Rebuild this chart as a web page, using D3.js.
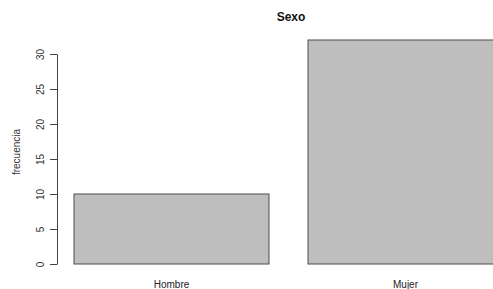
<!DOCTYPE html>
<html>
<head>
<meta charset="utf-8">
<script src="https://cdn.jsdelivr.net/npm/d3@7"></script>
<style>
  body { margin: 0; background: #fff; }
  svg { display: block; font-family: "Liberation Sans", Arial, sans-serif; }
</style>
</head>
<body>
<div id="chart"></div>
<script>
// data
const categories = ["Hombre", "Mujer"];
const counts = [10, 32];
const yTicks = [0, 5, 10, 15, 20, 25, 30];

const width = 493, height = 289;

const svg = d3.select("#chart").append("svg")
    .attr("width", width)
    .attr("height", height);

// barplot units: width 1, space 0.2
const x = d3.scaleLinear().domain([0.2, 1.2]).range([74, 269]);
const y = d3.scaleLinear().domain([0, 30]).range([264, 54]);

// bars
svg.selectAll("rect.bar")
    .data(counts)
    .enter()
    .append("rect")
    .attr("class", "bar")
    .attr("x", (d, i) => x(0.2 + i * 1.2))
    .attr("width", x(1.2) - x(0.2))
    .attr("y", d => y(d))
    .attr("height", d => y(0) - y(d))
    .attr("fill", "#bebebe")
    .attr("stroke", "#4d4d4d")
    .attr("stroke-width", 1);

// category labels
svg.selectAll("text.cat")
    .data(categories)
    .enter()
    .append("text")
    .attr("class", "cat")
    .attr("x", (d, i) => x(0.7 + i * 1.2))
    .attr("y", 288)
    .attr("text-anchor", "middle")
    .style("font-size", "10px")
    .style("fill", "#222")
    .text(d => d);

// y axis
const yAxis = svg.append("g")
    .attr("transform", "translate(57,0)")
    .call(d3.axisLeft(y).tickValues(yTicks).tickSize(7).tickSizeOuter(0));
yAxis.select(".domain").attr("stroke", "#444");
yAxis.selectAll(".tick line").attr("stroke", "#444");
yAxis.selectAll(".tick text")
    .attr("x", 0).attr("y", 0).attr("dy", 0)
    .attr("transform", "translate(-13,0) rotate(-90)")
    .attr("text-anchor", "middle")
    .style("font-size", "10px")
    .style("font-family", "'Liberation Sans', Arial, sans-serif")
    .style("fill", "#333");

// y label
svg.append("text")
    .attr("transform", "translate(20,152) rotate(-90)")
    .attr("text-anchor", "middle")
    .style("font-size", "10px")
    .style("fill", "#333")
    .text("frecuencia");

// title
svg.append("text")
    .attr("x", 291)
    .attr("y", 21)
    .attr("text-anchor", "middle")
    .style("font-size", "12px")
    .style("font-weight", "bold")
    .style("fill", "#111")
    .text("Sexo");
</script>
</body>
</html>
